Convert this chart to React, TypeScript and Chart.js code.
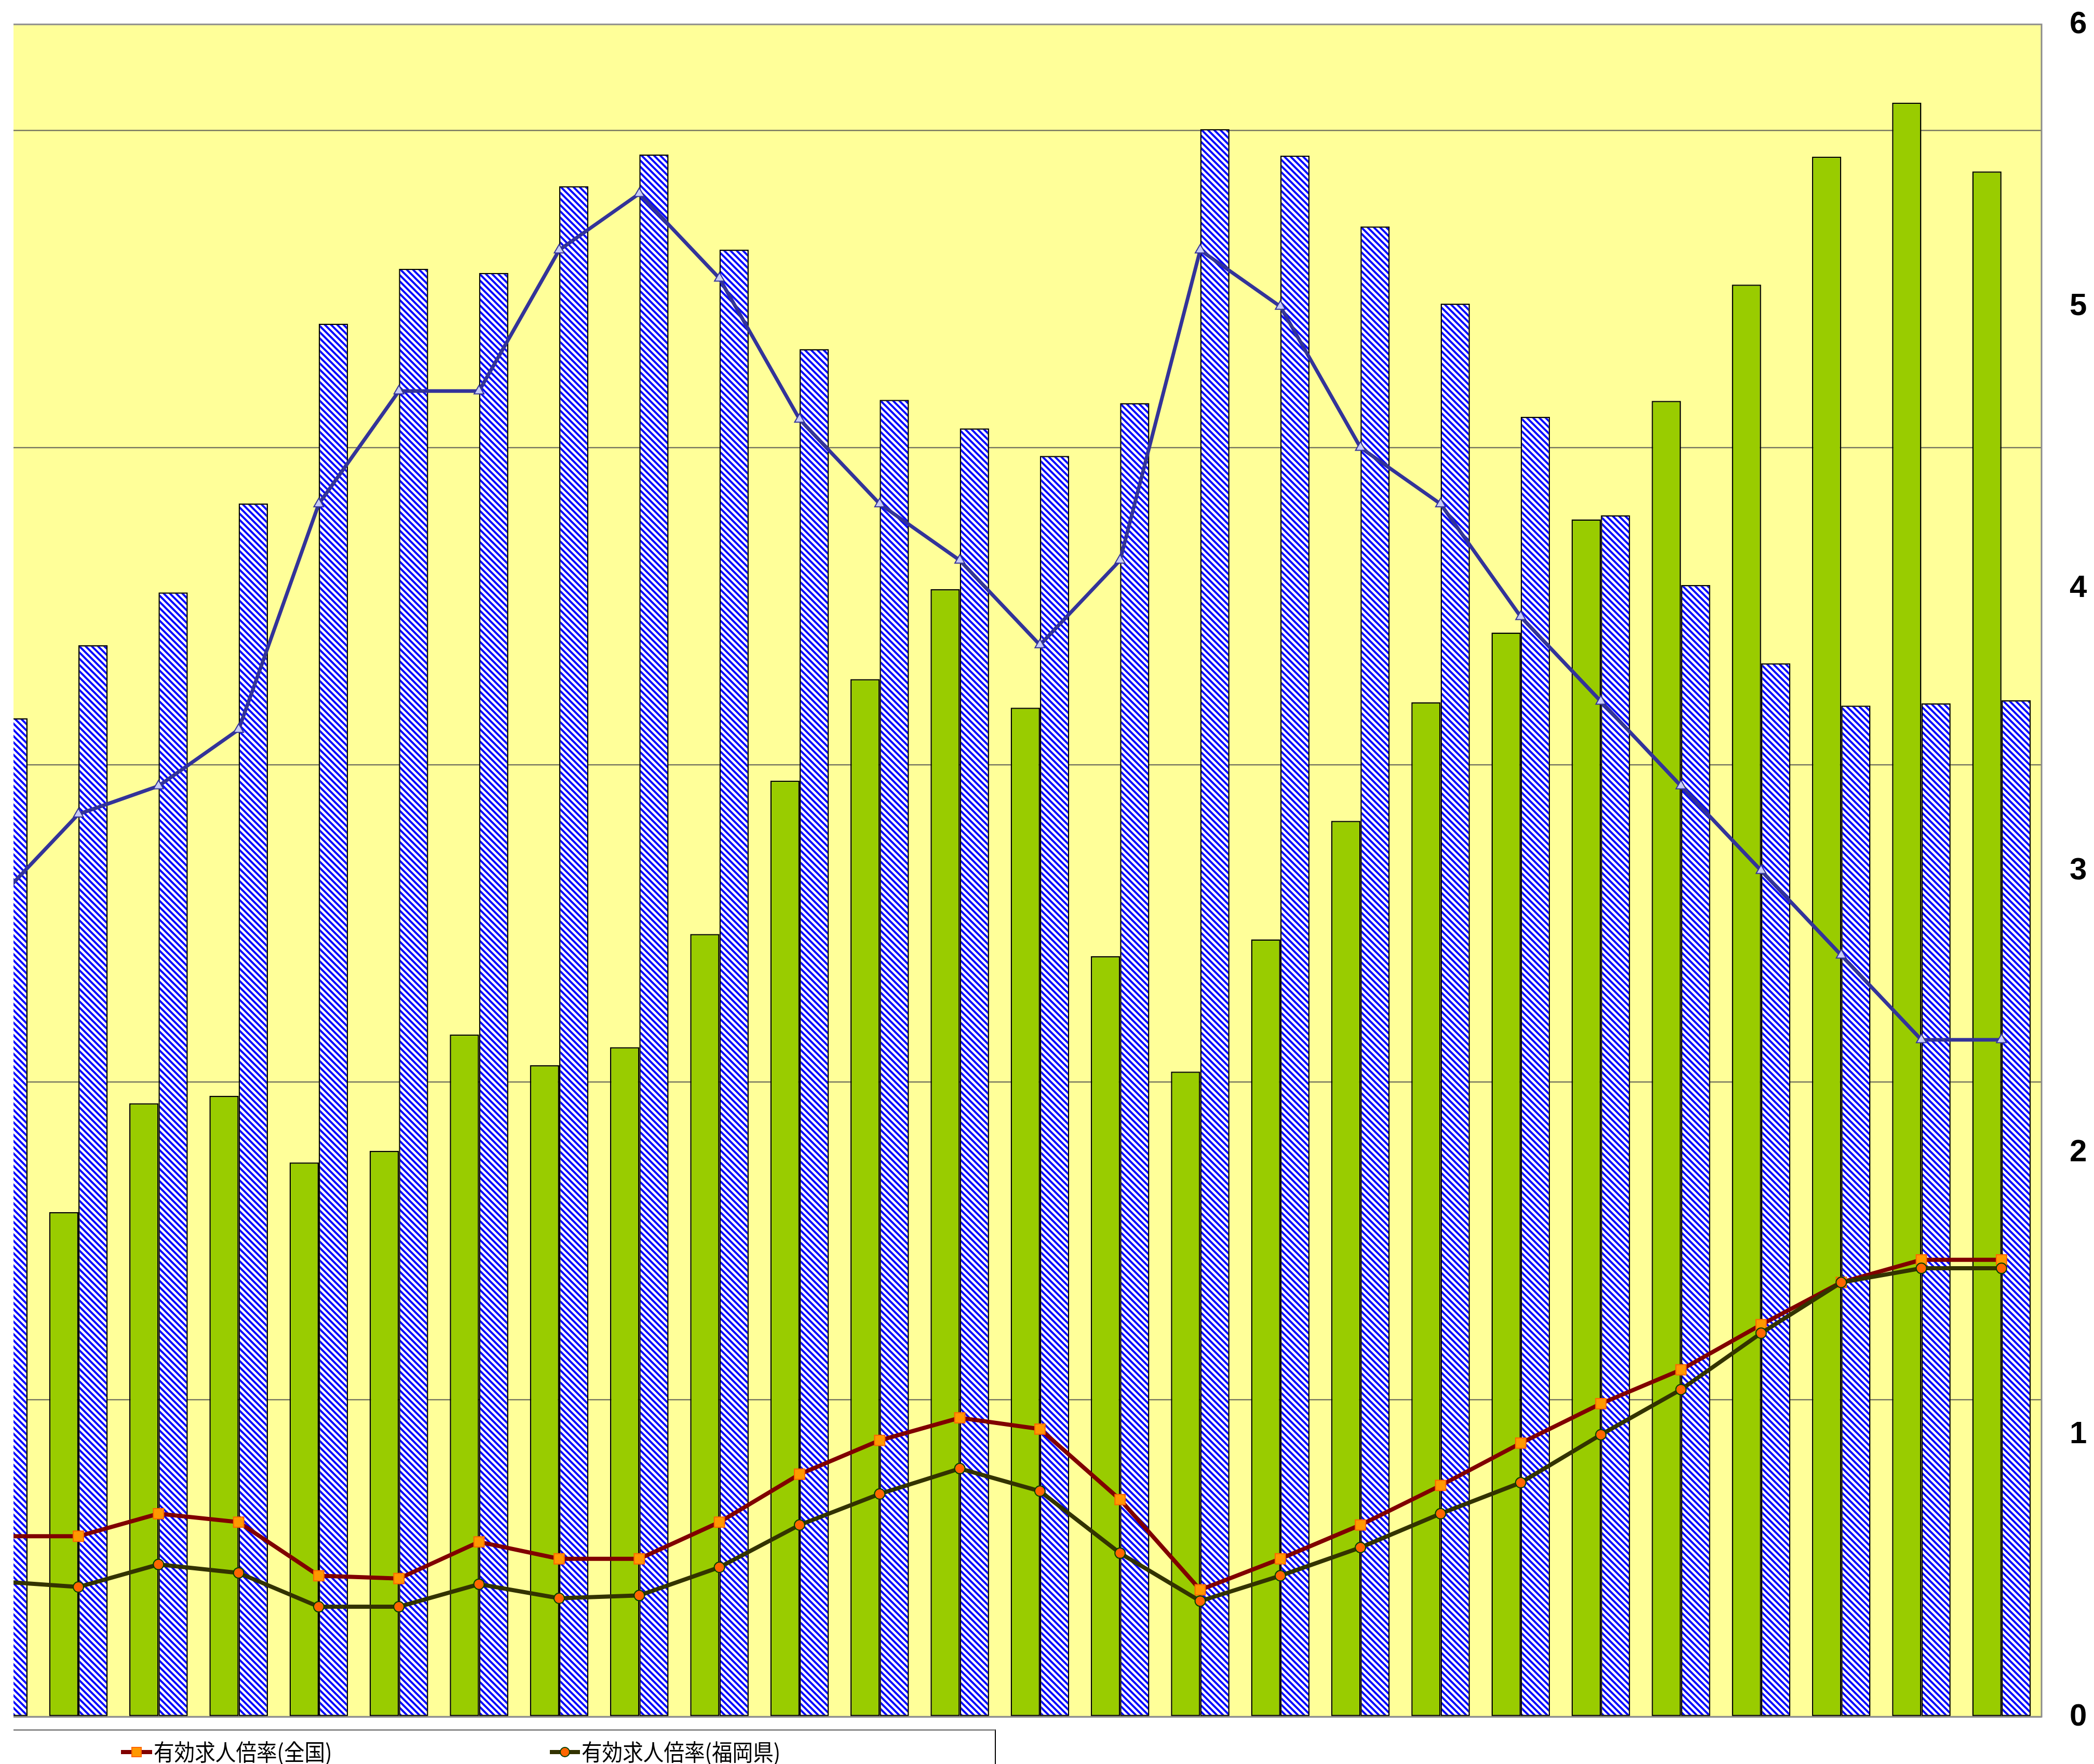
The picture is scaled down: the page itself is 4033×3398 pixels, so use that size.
import React, { useEffect, useRef } from 'react';
import { Chart, registerables } from 'chart.js';

Chart.register(...registerables);

// ---- data ----
const categories = [
  '1994', '1995', '1996', '1997', '1998', '1999', '2000', '2001', '2002',
  '2003', '2004', '2005', '2006', '2007', '2008', '2009', '2010', '2011',
  '2012', '2013', '2014', '2015', '2016', '2017', '2018', '2019',
];

// green bars (left, hidden axis)
const jobOffers = [
  46000, 47700, 58000, 58700, 52400, 53500, 64500, 61600, 63300, 74000,
  88500, 98100, 106600, 95400, 71900, 61000, 73500, 84700, 95900, 102500,
  113200, 124400, 135400, 147500, 152600, 146100,
];

// hatched bars (left, hidden axis)
const jobSeekers = [
  94400, 101300, 106300, 114700, 131700, 136900, 136500, 144700, 147700, 138700,
  129300, 124500, 121800, 119200, 124200, 150100, 147600, 140900, 133600, 122900,
  113600, 107000, 99600, 95600, 95800, 96100,
];

// triangle line (right axis)
const unemploymentRate = [
  2.9, 3.2, 3.3, 3.5, 4.3, 4.7, 4.7, 5.2, 5.4, 5.1,
  4.6, 4.3, 4.1, 3.8, 4.1, 5.2, 5.0, 4.5, 4.3, 3.9,
  3.6, 3.3, 3.0, 2.7, 2.4, 2.4,
];

// 有効求人倍率(全国) (right axis)
const ratioNational = [
  0.64, 0.64, 0.72, 0.69, 0.50, 0.49, 0.62, 0.56, 0.56, 0.69,
  0.86, 0.98, 1.06, 1.02, 0.77, 0.45, 0.56, 0.68, 0.82, 0.97,
  1.11, 1.23, 1.39, 1.54, 1.62, 1.62,
];

// 有効求人倍率(福岡県) (right axis)
const ratioFukuoka = [
  0.48, 0.46, 0.54, 0.51, 0.39, 0.39, 0.47, 0.42, 0.43, 0.53,
  0.68, 0.79, 0.88, 0.80, 0.58, 0.41, 0.50, 0.60, 0.72, 0.83,
  1.00, 1.16, 1.36, 1.54, 1.59, 1.59,
];

const leftAxisTicks = [0, 30000, 60000, 90000, 120000, 150000];
const leftAxisMax = 160000;
const rightAxisTicks = [0, 1, 2, 3, 4, 5, 6];

const legendNational = '有効求人倍率(全国)';
const legendFukuoka = '有効求人倍率(福岡県)';

// ---- layout ----
const W = 4033;
const H = 3398;

function makeHatch(): CanvasPattern | string {
  const c = document.createElement('canvas');
  const s = 12;
  c.width = s;
  c.height = s;
  const g = c.getContext('2d');
  if (!g) return '#0000FF';
  g.fillStyle = '#FFFFFF';
  g.fillRect(0, 0, s, s);
  g.strokeStyle = '#0000FF';
  g.lineWidth = 4;
  g.beginPath();
  for (let k = -1; k <= 1; k++) {
    g.moveTo(k * s - 2, -2);
    g.lineTo(k * s + s + 2, s + 2);
  }
  g.stroke();
  return g.createPattern(c, 'repeat') || '#0000FF';
}

const plotFrame = {
  id: 'plotFrame',
  beforeDraw(chart: any) {
    const { ctx, chartArea: a } = chart;
    ctx.save();
    ctx.fillStyle = '#FFFF99';
    ctx.fillRect(a.left, a.top, a.right - a.left, a.bottom - a.top);
    ctx.restore();
  },
  beforeDatasetsDraw(chart: any) {
    const { ctx, chartArea: a } = chart;
    ctx.save();
    ctx.strokeStyle = '#8C8C8C';
    ctx.lineWidth = 3;
    ctx.beginPath();
    ctx.moveTo(a.left, a.top);
    ctx.lineTo(a.right, a.top);
    ctx.lineTo(a.right, a.bottom);
    ctx.lineTo(a.left, a.bottom);
    ctx.stroke();
    ctx.restore();
  },
};

export default function App() {
  const ref = useRef<HTMLCanvasElement>(null);

  useEffect(() => {
    const canvas = ref.current;
    if (!canvas) return;
    const hatch = makeHatch();
    const pts = (arr: number[]) => arr.map((v, i) => ({ x: i, y: v }));

    const chart = new Chart(canvas, {
      type: 'bar',
      data: {
        labels: categories,
        datasets: [
          {
            type: 'line',
            label: legendFukuoka,
            data: pts(ratioFukuoka),
            yAxisID: 'y2',
            borderColor: '#333300',
            borderWidth: 8,
            pointStyle: 'circle',
            pointRadius: 10,
            pointBackgroundColor: '#FF6600',
            pointBorderColor: '#004000',
            pointBorderWidth: 2,
            order: 1,
            clip: 0,
          } as any,
          {
            type: 'line',
            label: legendNational,
            data: pts(ratioNational),
            yAxisID: 'y2',
            borderColor: '#800000',
            borderWidth: 8,
            pointStyle: 'rect',
            pointRadius: 14,
            pointBackgroundColor: '#FF9900',
            pointBorderColor: '#FF6600',
            pointBorderWidth: 2,
            order: 2,
            clip: 0,
          } as any,
          {
            type: 'line',
            label: '完全失業率',
            data: pts(unemploymentRate),
            yAxisID: 'y2',
            borderColor: '#333399',
            borderWidth: 7,
            pointStyle: 'triangle',
            pointRadius: 11,
            pointBackgroundColor: '#C8CCF4',
            pointBorderColor: '#333399',
            pointBorderWidth: 2,
            order: 3,
            clip: 0,
          } as any,
          {
            type: 'bar',
            label: '有効求人数',
            data: pts(jobOffers),
            yAxisID: 'y',
            backgroundColor: '#99CC00',
            borderColor: '#000000',
            borderWidth: 2.5,
            borderSkipped: false,
            categoryPercentage: 0.73,
            barPercentage: 1.0,
            order: 4,
            clip: 0,
          } as any,
          {
            type: 'bar',
            label: '有効求職者数',
            data: pts(jobSeekers),
            yAxisID: 'y',
            backgroundColor: hatch,
            borderColor: '#000000',
            borderWidth: 2.5,
            borderSkipped: false,
            categoryPercentage: 0.73,
            barPercentage: 1.0,
            order: 5,
            clip: 0,
          } as any,
        ],
      },
      options: {
        responsive: false,
        devicePixelRatio: 1,
        animation: false,
        layout: { padding: { left: 26, top: 47, right: 0, bottom: 91 } },
        plugins: {
          legend: { display: false },
          tooltip: { enabled: false },
          title: { display: false },
        },
        scales: {
          x: {
            type: 'linear',
            min: 0.19,
            max: 25.5,
            offset: false,
            display: false,
            afterBuildTicks: (s: any) => {
              s.ticks = categories.map((_, i) => ({ value: i }));
            },
          },
          y: {
            type: 'linear',
            position: 'left',
            min: 0,
            max: leftAxisMax,
            afterBuildTicks: (s: any) => {
              s.ticks = leftAxisTicks.map((v) => ({ value: v }));
            },
            afterFit: (s: any) => {
              s.width = 0;
              s.paddingTop = 0;
              s.paddingBottom = 0;
            },
            ticks: { display: false },
            grid: { color: '#7A7A62', lineWidth: 2.5, drawTicks: false },
            border: { display: false },
          },
          y2: {
            type: 'linear',
            position: 'right',
            min: 0,
            max: 6,
            afterBuildTicks: (s: any) => {
              s.ticks = rightAxisTicks.map((v) => ({ value: v }));
            },
            afterFit: (s: any) => {
              s.width = 101;
              s.paddingTop = 0;
              s.paddingBottom = 0;
            },
            ticks: {
              padding: 54,
              color: '#000000',
              font: { family: '"Liberation Sans", Arial, sans-serif', size: 60, weight: 'bold' },
            },
            grid: { display: false, drawTicks: false },
            border: { display: false },
          },
        },
      } as any,
      plugins: [plotFrame],
    });

    return () => chart.destroy();
  }, []);

  const textStyle: React.CSSProperties = {
    position: 'absolute',
    top: 3351,
    fontFamily: '"Noto Sans CJK JP", sans-serif',
    fontSize: 44,
    lineHeight: '44px',
    color: '#000',
    whiteSpace: 'nowrap',
    transform: 'scaleX(0.9)',
    transformOrigin: 'left center',
  };

  return (
    <div style={{ position: 'fixed', left: 0, top: 0, width: W, height: H, overflow: 'hidden', background: '#FFFFFF' }}>
      <canvas ref={ref} width={W} height={H} style={{ position: 'absolute', left: 0, top: 0, width: W, height: H }} />
      <div
        style={{
          position: 'absolute',
          left: 26,
          top: 3331,
          width: 1892,
          height: 100,
          boxSizing: 'border-box',
          borderTop: '3px solid #8C8C8C',
          borderRight: '2px solid #000000',
        }}
      />
      {/* entry 1 */}
      <div style={{ position: 'absolute', left: 233, top: 3371, width: 60, height: 8, background: '#800000' }} />
      <div
        style={{
          position: 'absolute', left: 253, top: 3365, width: 20, height: 20, boxSizing: 'border-box',
          background: '#FF9900', border: '2px solid #FF6600',
        }}
      />
      <div style={{ ...textStyle, left: 296 }}>{legendNational}</div>
      {/* entry 2 */}
      <div style={{ position: 'absolute', left: 1059, top: 3371, width: 58, height: 8, background: '#333300' }} />
      <div
        style={{
          position: 'absolute', left: 1078, top: 3365, width: 20, height: 20, boxSizing: 'border-box',
          background: '#FF6600', border: '2px solid #004000', borderRadius: '50%',
        }}
      />
      <div style={{ ...textStyle, left: 1120 }}>{legendFukuoka}</div>
    </div>
  );
}
